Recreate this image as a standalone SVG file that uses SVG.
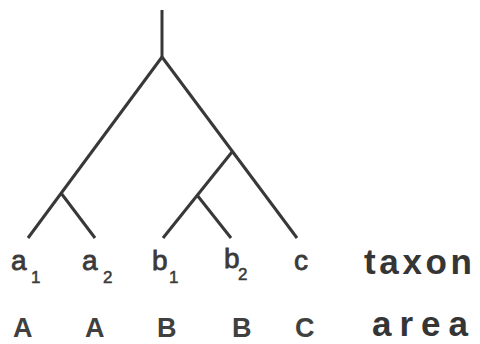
<svg xmlns="http://www.w3.org/2000/svg" width="480" height="344" viewBox="0 0 480 344">
<style>
.br{fill:none;stroke:#383838;stroke-width:3;stroke-linecap:butt;stroke-linejoin:miter}
.tx{font-family:"Liberation Sans",Arial,sans-serif;font-size:28px;fill:#3a3a3a;stroke:#3a3a3a;stroke-width:0.8}
.sb{font-family:"Liberation Sans",Arial,sans-serif;font-size:17px;fill:#3a3a3a;stroke:#3a3a3a;stroke-width:0.5}
.ar{font-family:"Liberation Sans",Arial,sans-serif;font-size:27px;font-weight:bold;fill:#404040}
.hd{font-family:"Liberation Sans",Arial,sans-serif;font-size:35px;font-weight:bold;fill:#353535}
</style>
<rect width="480" height="344" fill="#ffffff"/>
<g id="connectors">
<path class="br" d="M162 10 V57"/>
<path class="br" d="M162 57 L28 238"/>
<path class="br" d="M61 193 L95 238"/>
<path class="br" d="M162 57 L297 238"/>
<path class="br" d="M232 152 L163 238"/>
<path class="br" d="M197 195 L231 238"/>
</g>
<g id="taxon-a1"><text class="tx" x="11" y="270">a</text><text class="sb" x="31" y="283">1</text></g>
<g id="taxon-a2"><text class="tx" x="82" y="270">a</text><text class="sb" x="103" y="283">2</text></g>
<g id="taxon-b1"><text class="tx" x="152" y="270">b</text><text class="sb" x="169" y="283">1</text></g>
<g id="taxon-b2"><text class="tx" x="224" y="268">b</text><text class="sb" x="238" y="280">2</text></g>
<g id="taxon-c"><text class="tx" x="294" y="270">c</text></g>
<g id="label-taxon"><text class="hd" x="364" y="274" textLength="108" lengthAdjust="spacing">taxon</text></g>
<g id="area-A1"><text class="ar" x="13" y="337">A</text></g>
<g id="area-A2"><text class="ar" x="85" y="337">A</text></g>
<g id="area-B1"><text class="ar" x="157" y="337">B</text></g>
<g id="area-B2"><text class="ar" x="232" y="337">B</text></g>
<g id="area-C"><text class="ar" x="295" y="337">C</text></g>
<g id="label-area"><text class="hd" x="372" y="336" textLength="96" lengthAdjust="spacing">area</text></g>
</svg>
